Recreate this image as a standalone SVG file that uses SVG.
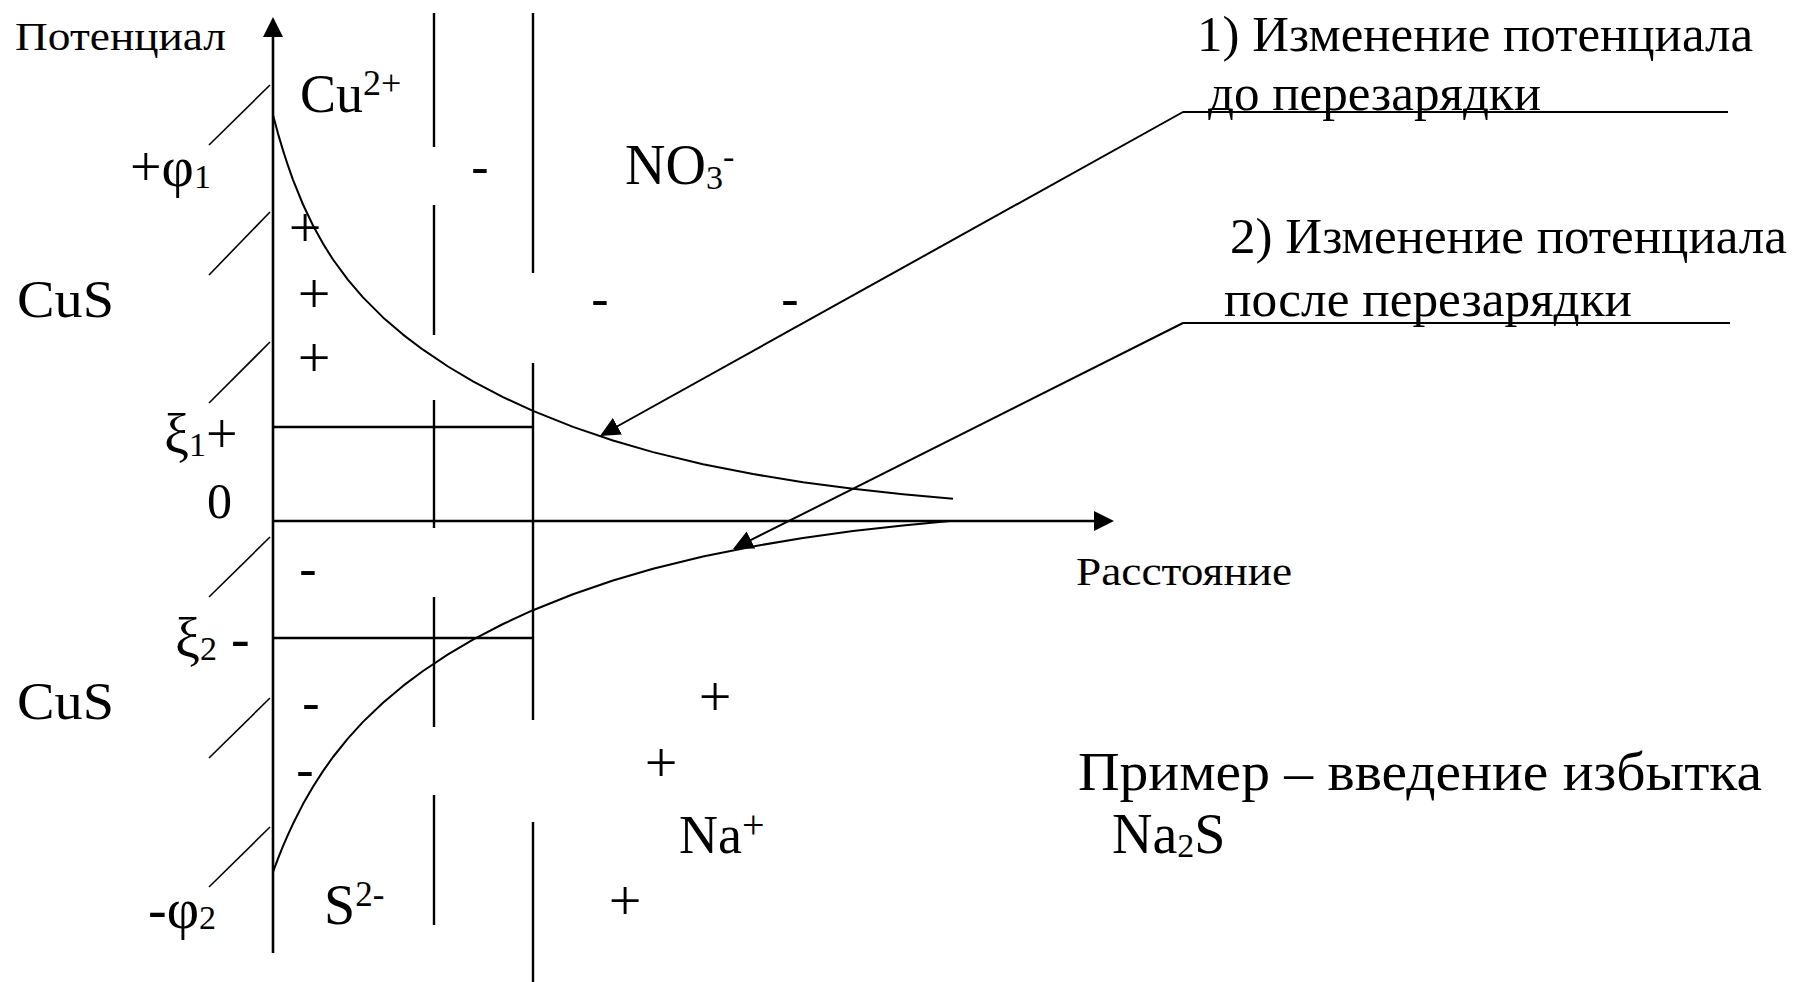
<svg xmlns="http://www.w3.org/2000/svg" width="1798" height="982" viewBox="0 0 1798 982">
<style>
.ln{stroke:#000;stroke-width:2.4;fill:none}
.ax{stroke:#000;stroke-width:2.6;fill:none}
.cv{stroke:#000;stroke-width:2;fill:none;stroke-linejoin:round}
.ht{stroke:#000;stroke-width:1.6;fill:none}
.t{font-family:"Liberation Serif","Times New Roman",serif;fill:#000}
.mk{font-size:52px;text-anchor:middle}
.pl{font-size:58px;text-anchor:middle}
</style>
<defs>
<marker id="axisHead" viewBox="0 0 20 20" refX="16" refY="10" markerWidth="20" markerHeight="20" markerUnits="userSpaceOnUse" orient="auto"><path d="M0,0 L20,10 L0,20 z" fill="#000"/></marker>
<marker id="callHead" viewBox="0 0 20 20" refX="17" refY="10" markerWidth="20" markerHeight="20" markerUnits="userSpaceOnUse" orient="auto"><path d="M0,0.5 L20,10 L0,19.5 z" fill="#000"/></marker>
</defs>
<rect width="1798" height="982" fill="#fff"/>

<g id="axes">
<line class="ax" x1="273" y1="953" x2="273" y2="21" marker-end="url(#axisHead)"/>
<line class="ax" x1="273" y1="521" x2="1110" y2="521" marker-end="url(#axisHead)"/>
</g>

<g id="hatching">
<line class="ht" x1="209" y1="145" x2="270" y2="85"/>
<line class="ht" x1="209" y1="275" x2="270" y2="212"/>
<line class="ht" x1="209" y1="403" x2="270" y2="342"/>
<line class="ht" x1="209" y1="597" x2="270" y2="537"/>
<line class="ht" x1="209" y1="758" x2="270" y2="698"/>
<line class="ht" x1="209" y1="887" x2="270" y2="827"/>
</g>

<g id="boundaries">
<path class="ln" d="M434,13V147M434,205V335M434,400V528M434,597V727M434,795V925"/>
<path class="ln" d="M533,13V273M533,363V720M533,822V982"/>
<line class="ln" x1="273" y1="427" x2="533" y2="427"/>
<line class="ln" x1="273" y1="638" x2="533" y2="638"/>
</g>

<g id="curves">
<polyline id="curve-before" class="cv" points="273,115 278,133.6 283,150.4 288,165.7 293,179.8 303,204.5 313,225.5 323,243.6 333,259.5 348,279.9 363,297.4 383,317.4 403,334.6 423,349.7 448,366.5 473,381.3 503,397.1 533,410.9 573,426.9 613,440.5 653,452.1 703,464.2 753,474.1 803,482.2 853,488.8 903,494.2 953,498.7"/>
<polyline id="curve-after" class="cv" points="273,872 278,858.7 283,846.2 288,834.6 293,823.8 303,804.1 313,786.7 323,771.1 333,757 348,738.4 363,721.9 383,702.7 403,685.9 423,671 448,654.4 473,639.7 503,624 533,610.2 573,594.2 613,580.5 653,568.8 703,556.5 753,546.4 803,538 853,531.1 903,525.4 950,521"/>
</g>

<g id="connectors">
<polyline class="cv" points="1728,112 1183,112 602.6,434.5" marker-end="url(#callHead)"/>
<polyline class="cv" points="1730,323 1183,323 735.7,547.7" marker-end="url(#callHead)"/>
</g>

<g id="axis-labels">
<text class="t" x="15" y="50" font-size="39" textLength="211" lengthAdjust="spacingAndGlyphs">Потенциал</text>
<text class="t" x="1076" y="585" font-size="40" textLength="216" lengthAdjust="spacingAndGlyphs">Расстояние</text>
</g>

<g id="potential-labels">
<text class="t" x="130" y="186" font-size="56">+φ<tspan font-size="34" dy="2">1</tspan></text>
<text class="t" x="164" y="453" font-size="56">ξ<tspan font-size="34" dy="3">1</tspan><tspan dy="-3">+</tspan></text>
<text class="t" x="207" y="518" font-size="50">0</text>
<text class="t" x="175" y="657" font-size="56">ξ<tspan font-size="34" dy="3">2</tspan><tspan dy="-3"> -</tspan></text>
<text class="t" x="148" y="928" font-size="56">-φ<tspan font-size="34" dy="1">2</tspan></text>
</g>

<g id="phase-labels">
<text class="t" x="17" y="317" font-size="52" textLength="97" lengthAdjust="spacingAndGlyphs">CuS</text>
<text class="t" x="17" y="719" font-size="52" textLength="97" lengthAdjust="spacingAndGlyphs">CuS</text>
<text class="t" x="300" y="112" font-size="54">Cu<tspan font-size="36" dy="-17">2+</tspan></text>
<text class="t" x="625" y="184" font-size="56">NO<tspan font-size="34" dy="5">3</tspan><tspan font-size="34" dy="-21">-</tspan></text>
<text class="t" x="324" y="924" font-size="56">S<tspan font-size="35" dy="-18">2-</tspan></text>
<text class="t" x="679" y="853" font-size="54">Na<tspan font-size="40" dy="-15">+</tspan></text>
</g>

<g id="charges">
<text class="t pl" x="305" y="247">+</text>
<text class="t pl" x="314" y="313">+</text>
<text class="t pl" x="314" y="377">+</text>
<text class="t pl" x="715" y="716">+</text>
<text class="t pl" x="661" y="782">+</text>
<text class="t pl" x="625" y="920">+</text>
<text class="t mk" x="480" y="184">-</text>
<text class="t mk" x="600" y="316">-</text>
<text class="t mk" x="790" y="316">-</text>
<text class="t mk" x="308" y="586">-</text>
<text class="t mk" x="311" y="720">-</text>
<text class="t mk" x="305" y="787">-</text>
</g>

<g id="legend-1">
<text class="t" x="1197" y="51" font-size="50" textLength="556" lengthAdjust="spacingAndGlyphs">1) Изменение потенциала</text>
<text class="t" x="1208" y="110" font-size="50" textLength="333" lengthAdjust="spacingAndGlyphs">до перезарядки</text>
</g>
<g id="legend-2">
<text class="t" x="1230" y="253" font-size="50" textLength="557" lengthAdjust="spacingAndGlyphs">2) Изменение потенциала</text>
<text class="t" x="1224" y="316" font-size="50" textLength="408" lengthAdjust="spacingAndGlyphs">после перезарядки</text>
</g>

<g id="example-note">
<text class="t" x="1078" y="790" font-size="54" textLength="684" lengthAdjust="spacingAndGlyphs">Пример – введение избытка</text>
<text class="t" x="1112" y="853" font-size="56">Na<tspan font-size="34" dy="4">2</tspan><tspan dy="-4">S</tspan></text>
</g>
</svg>
